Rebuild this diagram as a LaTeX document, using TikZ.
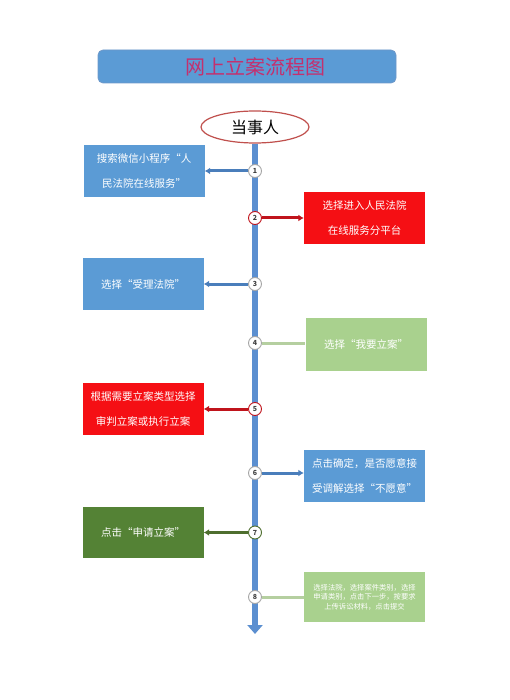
\documentclass[tikz,border=0pt]{standalone}
\usepackage{fontspec}
\setmainfont{Noto Sans CJK SC}
\usetikzlibrary{arrows.meta,shapes.geometric}
\definecolor{cblue}{HTML}{5B9BD5}
\definecolor{cbar}{HTML}{5B8FD0}
\definecolor{cblueline}{HTML}{4A7EBB}
\definecolor{cred}{HTML}{F50F14}
\definecolor{credline}{HTML}{C0141C}
\definecolor{clgreen}{HTML}{A9D18E}
\definecolor{clgline}{HTML}{B5CFA0}
\definecolor{cdgreen}{HTML}{548235}
\definecolor{cdgline}{HTML}{4E6E2E}
\definecolor{ctitle}{HTML}{C4306E}
\definecolor{cell}{HTML}{C0504D}
\tikzset{
  x=1pt, y=-1pt,
  stepbox/.style={rectangle, draw=none, text=white, align=center, inner sep=2pt,
    minimum width=121pt, minimum height=52pt, font={\fontsize{10.5}{25}\selectfont}},
  numc/.style={circle, fill=white, draw=gray!70, line width=0.9pt, minimum size=13pt,
    inner sep=0pt, font={\fontsize{7}{8}\selectfont\bfseries}, text=black!75},
  conn/.style={line width=3pt},
  tipconn/.style={conn, -{Latex[length=5.5pt,width=7pt]}},
}
\begin{document}
\begin{tikzpicture}
\useasboundingbox (0,0) rectangle (509,700);
% title
\node[rectangle, rounded corners=5pt, fill=cblue, draw=cblueline!80, line width=0.8pt,
  minimum width=298pt, minimum height=33pt] (title) at (247,66.5) {};
\node[text=ctitle, font={\fontsize{20}{22}\selectfont}] (ttext) at (255,66.5) {网上立案流程图};
% ellipse
\node[ellipse, draw=cell, line width=1.2pt, fill=white, minimum width=108pt, minimum height=32pt,
  inner sep=0pt, font={\fontsize{16}{18}\selectfont}] (e) at (255,127) {当事人};
% bar
\coordinate (bot) at (255,634);
\draw[cbar, line width=6pt, -{Triangle[width=15pt,length=9pt]}] (e.south) -- (bot);
% boxes
\node[stepbox, fill=cblue] (b1) at (144,171) {搜索微信小程序“人\\民法院在线服务”};
\node[stepbox, fill=cred] (b2) at (364.5,218) {选择进入人民法院\\在线服务分平台};
\node[stepbox, fill=cblue] (b3) at (143,284) {选择“受理法院”};
\node[stepbox, fill=clgreen, minimum height=53pt] (b4) at (366,344) {选择“我要立案”};
\node[stepbox, fill=cred] (b5) at (143,409) {根据需要立案类型选择\\审判立案或执行立案};
\node[stepbox, fill=cblue] (b6) at (364.5,476) {点击确定，是否愿意接\\受调解选择“不愿意”};
\node[stepbox, fill=cdgreen, minimum height=51pt] (b7) at (143,532.5) {点击“申请立案”};
\node[stepbox, fill=clgreen, minimum height=50pt, font={\fontsize{7.3}{9.6}\selectfont}] (b8) at (364.5,597)
  {选择法院，选择案件类别，选择\\申请类别，点击下一步，按要求\\上传诉讼材料，点击提交};
% circles
\node[numc] (c1) at (255,171) {1};
\node[numc, draw=credline] (c2) at (255,218) {2};
\node[numc] (c3) at (255,284) {3};
\node[numc] (c4) at (255,343) {4};
\node[numc, draw=credline] (c5) at (255,409) {5};
\node[numc] (c6) at (255,473) {6};
\node[numc, draw=cdgline] (c7) at (255,532.5) {7};
\node[numc] (c8) at (255,597) {8};
% connectors
\draw[tipconn, cblueline] (c1) -- (b1);
\draw[tipconn, credline] (c2) -- (b2);
\draw[tipconn, cblueline] (c3) -- (b3);
\draw[conn, clgline] (c4) -- (c4 -| b4.west);
\draw[tipconn, credline] (c5) -- (b5);
\draw[tipconn, cblueline] (c6) -- (c6 -| b6.west);
\draw[tipconn, cdgline] (c7) -- (b7);
\draw[conn, clgline] (c8) -- (b8);
\end{tikzpicture}
\end{document}
